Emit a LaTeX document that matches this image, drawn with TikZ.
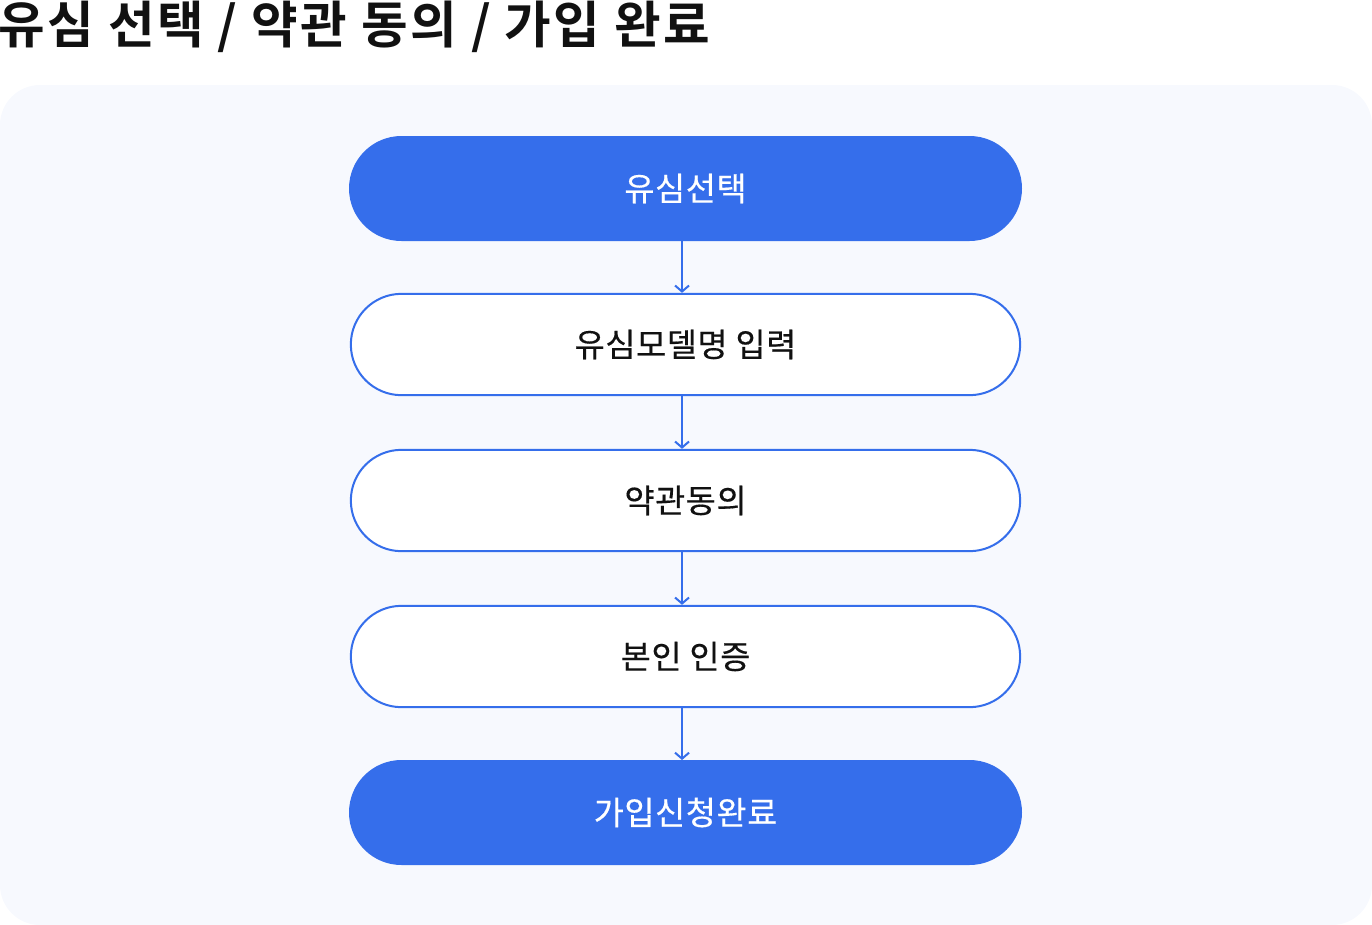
\documentclass[tikz,border=0pt]{standalone}
\usepackage{fontspec}
\setmainfont{Noto Sans CJK KR}
\newfontfamily\titlefont{Noto Sans CJK KR}[BoldFont={* Bold}, LetterSpace=5]
\newfontfamily\stepfont{Noto Sans CJK KR}[FakeBold=0.4, LetterSpace=2]
\usepackage{tikz}
\usetikzlibrary{shapes.misc,arrows.meta}

\definecolor{flowblue}{RGB}{53,110,235}
\definecolor{panelbg}{RGB}{247,249,254}
\definecolor{inkdark}{RGB}{17,17,17}

\tikzset{
  stepfill/.style={rounded rectangle, minimum width=503.25pt, minimum height=77.25pt, inner sep=0pt, fill=flowblue, draw=flowblue, line width=1.5pt, text=white, font=\stepfont\fontsize{24.5}{28}\selectfont},
  stepline/.style={rounded rectangle, minimum width=502pt, minimum height=76pt, inner sep=0pt, fill=white, draw=flowblue, line width=1.5pt, text=inkdark, font=\stepfont\fontsize{24.5}{28}\selectfont},
  flowarrow/.style={draw=flowblue, line width=1.5pt, -{Straight Barb[length=4.5pt,width=10.5pt,line width=1.5pt]}}
}

\begin{document}
\begin{tikzpicture}[x=0.75pt,y=0.75pt,yscale=-1,xscale=1]
        \useasboundingbox (0,0) rectangle (1372,925);

        % Text Node
        \node (title) [anchor=base west, inner sep=0pt, text=inkdark, font=\titlefont\bfseries\fontsize{38}{44}\selectfont] at (-2,43) {유심 선택 / 약관 동의 / 가입 완료};

        %Shape: Rounded Rect [id:panel]
        \fill [panelbg, rounded corners=30pt] (0,85) rectangle (1372,925);

        %Steps
        \node (sim) [stepfill] at (685.5,188.5) {유심선택};
        \node (model) [stepline] at (685.5,344.5) {유심모델명 입력};
        \node (terms) [stepline] at (685.5,500.5) {약관동의};
        \node (auth) [stepline] at (685.5,656.5) {본인 인증};
        \node (done) [stepfill] at (685.5,812.5) {가입신청완료};

        %Straight Lines
        \draw [flowarrow] ([xshift=-2.6pt]sim.south) -- ([xshift=-2.6pt]model.north);
        \draw [flowarrow] ([xshift=-2.6pt]model.south) -- ([xshift=-2.6pt]terms.north);
        \draw [flowarrow] ([xshift=-2.6pt]terms.south) -- ([xshift=-2.6pt]auth.north);
        \draw [flowarrow] ([xshift=-2.6pt]auth.south) -- ([xshift=-2.6pt]done.north);

    \end{tikzpicture}
\end{document}
